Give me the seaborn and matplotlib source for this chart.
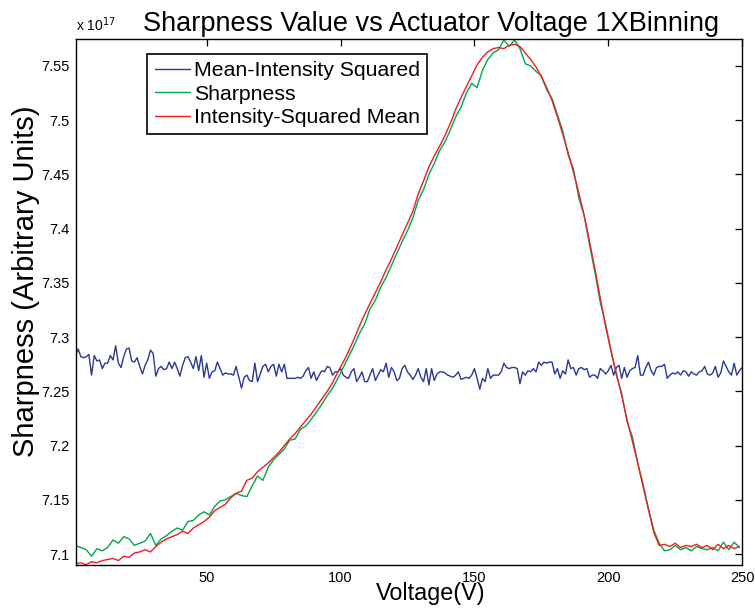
import numpy as np
import matplotlib
matplotlib.use('Agg')
import matplotlib.pyplot as plt
from matplotlib.ticker import FixedLocator, FormatStrFormatter
import seaborn as sns

# Voltage sweep (V); blue sampled every volt, curves read every 2 V
voltage_fine = np.arange(1, 251)
voltage_curve = np.arange(1, 250, 2)

# Sharpness values in units of 1e17
mean_intensity_sq = [
    7.283, 7.289, 7.282, 7.281, 7.282, 7.284, 7.265, 7.283, 7.278, 7.279,
    7.271, 7.276, 7.276, 7.283, 7.279, 7.292, 7.276, 7.272, 7.282, 7.289,
    7.290, 7.278, 7.277, 7.281, 7.273, 7.266, 7.274, 7.279, 7.288, 7.285,
    7.264, 7.271, 7.273, 7.270, 7.271, 7.277, 7.271, 7.277, 7.271, 7.264,
    7.274, 7.281, 7.282, 7.277, 7.271, 7.282, 7.269, 7.283, 7.263, 7.276,
    7.262, 7.268, 7.269, 7.277, 7.271, 7.265, 7.267, 7.266, 7.266, 7.265,
    7.273, 7.263, 7.253, 7.263, 7.265, 7.260, 7.259, 7.276, 7.259, 7.266,
    7.273, 7.275, 7.268, 7.273, 7.275, 7.264, 7.275, 7.268, 7.275, 7.262,
    7.262, 7.262, 7.262, 7.263, 7.262, 7.264, 7.269, 7.272, 7.262, 7.268,
    7.260, 7.265, 7.269, 7.268, 7.273, 7.272, 7.265, 7.268, 7.268, 7.271,
    7.265, 7.263, 7.262, 7.268, 7.271, 7.259, 7.263, 7.268, 7.259, 7.259,
    7.265, 7.271, 7.260, 7.265, 7.270, 7.268, 7.276, 7.263, 7.272, 7.268,
    7.260, 7.262, 7.271, 7.274, 7.268, 7.265, 7.261, 7.265, 7.271, 7.263,
    7.259, 7.271, 7.256, 7.271, 7.260, 7.266, 7.268, 7.268, 7.267, 7.265,
    7.264, 7.263, 7.265, 7.268, 7.261, 7.262, 7.263, 7.262, 7.265, 7.271,
    7.262, 7.252, 7.262, 7.259, 7.271, 7.262, 7.265, 7.265, 7.265, 7.268,
    7.276, 7.272, 7.271, 7.272, 7.272, 7.271, 7.257, 7.268, 7.265, 7.269,
    7.268, 7.271, 7.268, 7.277, 7.274, 7.277, 7.276, 7.277, 7.277, 7.266,
    7.271, 7.262, 7.269, 7.266, 7.279, 7.271, 7.272, 7.265, 7.271, 7.272,
    7.270, 7.271, 7.263, 7.265, 7.265, 7.262, 7.271, 7.269, 7.266, 7.269,
    7.274, 7.265, 7.272, 7.274, 7.262, 7.272, 7.263, 7.269, 7.271, 7.272,
    7.283, 7.265, 7.265, 7.272, 7.277, 7.269, 7.265, 7.272, 7.273, 7.273,
    7.275, 7.262, 7.265, 7.267, 7.266, 7.268, 7.265, 7.269, 7.268, 7.264,
    7.268, 7.266, 7.265, 7.268, 7.269, 7.273, 7.266, 7.265, 7.267, 7.273,
    7.263, 7.267, 7.278, 7.273, 7.268, 7.265, 7.276, 7.265, 7.269, 7.272,
]

sharpness = [
    7.108, 7.106, 7.104, 7.098, 7.105, 7.103, 7.106, 7.113, 7.110, 7.116,
    7.114, 7.108, 7.110, 7.112, 7.119, 7.108, 7.114, 7.117, 7.121, 7.124,
    7.122, 7.130, 7.131, 7.136, 7.139, 7.136, 7.144, 7.149, 7.150, 7.153,
    7.156, 7.154, 7.153, 7.163, 7.172, 7.168, 7.180, 7.187, 7.192, 7.197,
    7.205, 7.206, 7.215, 7.218, 7.224, 7.231, 7.238, 7.246, 7.253, 7.262,
    7.272, 7.282, 7.292, 7.303, 7.312, 7.326, 7.334, 7.346, 7.355, 7.366,
    7.377, 7.388, 7.398, 7.410, 7.426, 7.436, 7.450, 7.460, 7.472, 7.480,
    7.491, 7.503, 7.512, 7.525, 7.534, 7.530, 7.546, 7.556, 7.562, 7.565,
    7.574, 7.568, 7.574, 7.566, 7.552, 7.550, 7.545, 7.541, 7.528, 7.520,
    7.505, 7.490, 7.468, 7.455, 7.428, 7.412, 7.385, 7.360, 7.332, 7.312,
    7.288, 7.265, 7.248, 7.222, 7.208, 7.184, 7.164, 7.142, 7.122, 7.110,
    7.103, 7.104, 7.108, 7.104, 7.106, 7.103, 7.107, 7.105, 7.104, 7.106,
    7.103, 7.111, 7.104, 7.111, 7.106,
]

intensity_sq_mean = [
    7.091, 7.092, 7.090, 7.093, 7.092, 7.094, 7.095, 7.096, 7.094, 7.098,
    7.097, 7.101, 7.102, 7.104, 7.102, 7.107, 7.111, 7.114, 7.116, 7.118,
    7.121, 7.119, 7.124, 7.127, 7.130, 7.134, 7.140, 7.143, 7.146, 7.152,
    7.156, 7.158, 7.168, 7.170, 7.176, 7.180, 7.184, 7.189, 7.194, 7.200,
    7.206, 7.211, 7.217, 7.223, 7.229, 7.236, 7.243, 7.250, 7.258, 7.268,
    7.277, 7.287, 7.298, 7.310, 7.321, 7.331, 7.341, 7.351, 7.362, 7.372,
    7.383, 7.394, 7.405, 7.416, 7.432, 7.444, 7.457, 7.467, 7.476, 7.486,
    7.497, 7.510, 7.521, 7.531, 7.541, 7.551, 7.558, 7.563, 7.566, 7.567,
    7.566, 7.569, 7.570, 7.568, 7.562, 7.556, 7.549, 7.540, 7.530, 7.518,
    7.503, 7.487, 7.470, 7.452, 7.433, 7.412, 7.388, 7.363, 7.336, 7.310,
    7.287, 7.267, 7.246, 7.224, 7.204, 7.184, 7.162, 7.141, 7.120, 7.108,
    7.109, 7.107, 7.110, 7.106, 7.108, 7.107, 7.109, 7.106, 7.108, 7.104,
    7.109, 7.105, 7.108, 7.105, 7.107,
]

y_ticks = [7.1, 7.15, 7.2, 7.25, 7.3, 7.35, 7.4, 7.45, 7.5, 7.55]
x_ticks = [50, 100, 150, 200, 250]

sns.set_style('white')
plt.rcParams['font.family'] = ['Liberation Sans', 'DejaVu Sans']
plt.rcParams['text.color'] = 'black'
plt.rcParams['axes.labelcolor'] = 'black'

fig = plt.figure(figsize=(7.55, 6.09), dpi=100)
ax = fig.add_axes([0.1, 0.0722, 0.883, 0.8633])

sns.lineplot(x=voltage_fine, y=mean_intensity_sq, ax=ax, color='#2b3990',
             linewidth=1.0, label='Mean-Intensity Squared')
sns.lineplot(x=voltage_curve, y=sharpness, ax=ax, color='#00a651',
             linewidth=1.0, label='Sharpness')
sns.lineplot(x=voltage_curve, y=intensity_sq_mean, ax=ax, color='#ee1d23',
             linewidth=1.0, label='Intensity-Squared Mean')

ax.set_xlim(1, 250)
ax.set_ylim(7.0899, 7.5746)
ax.xaxis.set_major_locator(FixedLocator(x_ticks))
ax.yaxis.set_major_locator(FixedLocator(y_ticks))
ax.yaxis.set_major_formatter(FormatStrFormatter('%g'))
ax.tick_params(direction='in', length=5, width=0.9, top=True, right=True,
               labelsize=10.5, colors='black', pad=4)
for side in ['left', 'right', 'top', 'bottom']:
    ax.spines[side].set_color('black')
    ax.spines[side].set_linewidth(1.0)

ax.set_title('Sharpness Value vs Actuator Voltage 1XBinning', fontsize=19.5,
             x=0.533, pad=6, color='black')
ax.set_xlabel('Voltage(V)', fontsize=16.8)
ax.xaxis.set_label_coords(0.533, -0.033)
ax.set_ylabel('Sharpness (Arbitrary Units)', fontsize=21)
ax.yaxis.set_label_coords(-0.054, 0.54)
ax.text(0.0, 1.01, 'x 10$^{17}$', transform=ax.transAxes, fontsize=10,
        ha='left', va='bottom')

leg = ax.legend(loc='upper left', bbox_to_anchor=(0.1077, 0.972), borderaxespad=0,
                fontsize=15.3, frameon=True, fancybox=False, framealpha=1,
                edgecolor='black', handlelength=1.65, handletextpad=0.2,
                labelspacing=0.2, borderpad=0.35)
leg.get_frame().set_linewidth(1.2)
for t in leg.get_texts():
    t.set_color('black')

plt.savefig('out.png', dpi=100)
